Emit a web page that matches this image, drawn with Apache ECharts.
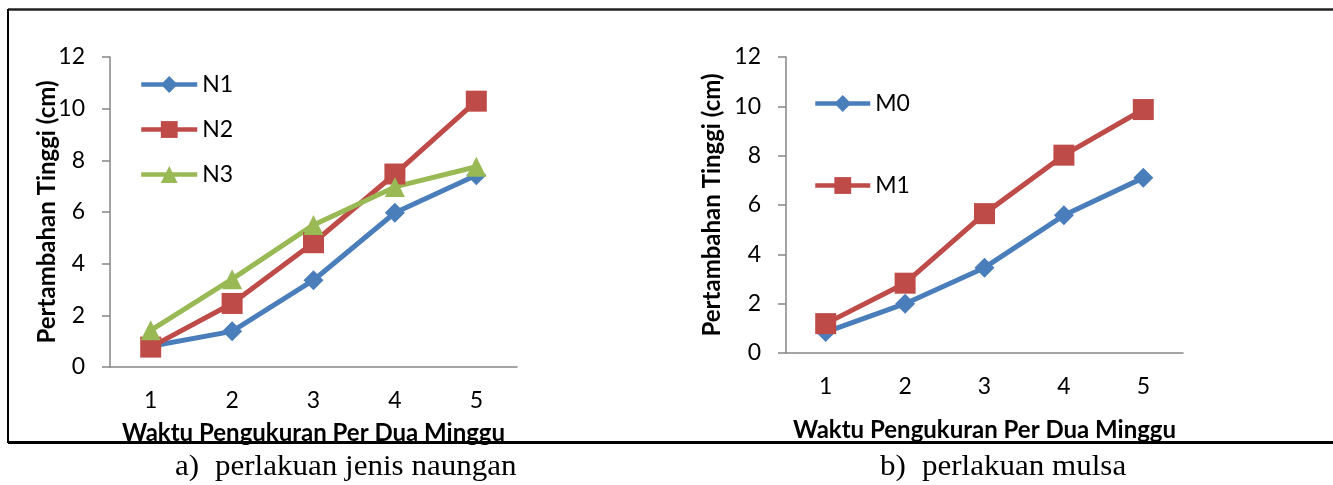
<!DOCTYPE html>
<html><head><meta charset="utf-8">
<script src="https://cdn.jsdelivr.net/npm/echarts@6/dist/echarts.min.js"></script>
<style>html,body{margin:0;padding:0;background:#fff}#c{width:1333px;height:485px}</style>
</head><body><div id="c"></div>
<script>
// ---- data ----
const categories = ['1', '2', '3', '4', '5'];
const N1 = [0.80, 1.38, 3.36, 5.97, 7.42];
const N2 = [0.77, 2.46, 4.81, 7.47, 10.29];
const N3 = [1.42, 3.40, 5.50, 6.97, 7.75];
const M0 = [0.85, 2.00, 3.46, 5.58, 7.10];
const M1 = [1.19, 2.83, 5.65, 8.02, 9.87];
const yTitle = 'Pertambahan Tinggi (cm)';
const xTitle = 'Waktu Pengukuran Per Dua Minggu';
const captionA = ['a)', 'perlakuan jenis naungan'];
const captionB = ['b)', 'perlakuan mulsa'];

const BLUE = '#4A7EBB', RED = '#BE4B48', GREEN = '#98B954';
const FONT = 'Lato';
const axisGray = '#868686';

function yAx(gridIndex, gap) {
  return {
    type: 'value', gridIndex, min: 0, max: 12, interval: 2,
    axisLine: { show: true, lineStyle: { color: axisGray, width: 1.5 } },
    axisTick: { show: true, length: 8, lineStyle: { color: axisGray, width: 1.5 } },
    splitLine: { show: false },
    axisLabel: { color: '#000', fontSize: 23, fontFamily: FONT, margin: 25 },
    name: yTitle, nameLocation: 'middle', nameRotate: 90, nameGap: gap,
    nameMoveOverlap: false,
    nameTextStyle: { color: '#000', fontSize: 24, fontWeight: 'bold', fontFamily: FONT }
  };
}
function xAx(gridIndex, gap) {
  return {
    type: 'category', gridIndex, data: categories, boundaryGap: true,
    axisLine: { show: true, lineStyle: { color: axisGray, width: 1.5 } },
    axisTick: { show: false },
    axisLabel: { color: '#000', fontSize: 23, fontFamily: FONT, margin: 22 },
    name: xTitle, nameLocation: 'middle', nameGap: gap,
    nameTextStyle: { color: '#000', fontSize: 24, fontWeight: 'bold', fontFamily: FONT }
  };
}
function ser(name, data, color, symbol, size, idx) {
  return {
    type: 'line', name, data, xAxisIndex: idx, yAxisIndex: idx,
    symbol, symbolSize: size, showAllSymbol: true,
    lineStyle: { color, width: 5 }, itemStyle: { color },
    emphasis: { disabled: true }, animation: false
  };
}
function legend(names, left, top, w, gap) {
  return {
    data: names, orient: 'vertical', left, top, itemWidth: w, itemHeight: 21, itemGap: gap,
    padding: 0,
    lineStyle: { width: 4.5 },
    textStyle: { color: '#000', fontSize: 23, fontFamily: FONT, lineHeight: 25 },
    selectedMode: false
  };
}

const chart = echarts.init(document.getElementById('c'), null, { renderer: 'canvas' });
chart.setOption({
  animation: false,
  backgroundColor: '#fff',
  grid: [
    { left: 110, top: 57, width: 407, height: 310 },
    { left: 786, top: 57, width: 397, height: 296 }
  ],
  xAxis: [xAx(0, 54), xAx(1, 65)],
  yAxis: [yAx(0, 51), yAx(1, 62)],
  legend: [
    legend(['N1', 'N2', 'N3'], 139, 72, 56, 20),
    legend(['M0', 'M1'], 813, 91, 55, 57)
  ],
  series: [
    ser('N1', N1, BLUE, 'diamond', 20, 0),
    ser('N2', N2, RED, 'rect', 21, 0),
    ser('N3', N3, GREEN, 'triangle', 20, 0),
    ser('M0', M0, BLUE, 'diamond', 20, 1),
    ser('M1', M1, RED, 'rect', 21, 1)
  ],
  graphic: [
    { type: 'line', shape: { x1: 8, y1: 9.5, x2: 1333, y2: 9.5 }, style: { stroke: '#222', lineWidth: 2.5 } },
    { type: 'line', shape: { x1: 8, y1: 442.5, x2: 1333, y2: 442.5 }, style: { stroke: '#000', lineWidth: 3 } },
    { type: 'line', shape: { x1: 8, y1: 9, x2: 8, y2: 443 }, style: { stroke: '#000', lineWidth: 2 } },
    { type: 'text', x: 175, y: 467, scaleX: 1.07, style: { text: captionA[0], font: '29px "Liberation Serif"', fill: '#000', verticalAlign: 'middle' } },
    { type: 'text', x: 215, y: 467, scaleX: 1.07, style: { text: captionA[1], font: '29px "Liberation Serif"', fill: '#000', verticalAlign: 'middle' } },
    { type: 'text', x: 880, y: 467, scaleX: 1.07, style: { text: captionB[0], font: '29px "Liberation Serif"', fill: '#000', verticalAlign: 'middle' } },
    { type: 'text', x: 922, y: 467, scaleX: 1.07, style: { text: captionB[1], font: '29px "Liberation Serif"', fill: '#000', verticalAlign: 'middle' } }
  ]
});
</script>
</body></html>
